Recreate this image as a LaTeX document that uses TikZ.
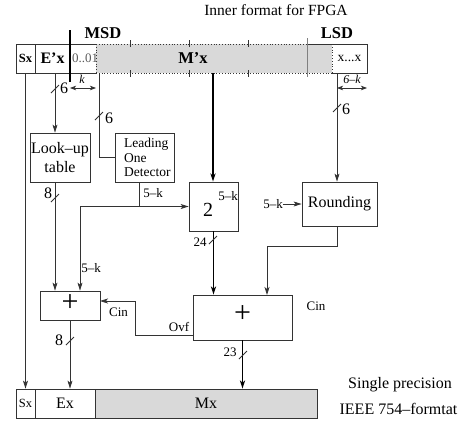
\documentclass[tikz,border=0pt]{standalone}
\usepackage{fontspec}
\setmainfont{Liberation Serif}
\usetikzlibrary{arrows.meta}
\begin{document}
\begin{tikzpicture}[x=1pt,y=-1pt,
  wire/.style={line width=0.8pt, draw=black!80},
  bus/.style={line width=1.6pt, draw=black},
  arr/.style={-{Stealth[length=8pt,width=5pt,inset=2pt]}},
  darr/.style={{Stealth[length=6pt,width=4.5pt,inset=1.5pt]}-{Stealth[length=6pt,width=4.5pt,inset=1.5pt]}},
  box/.style={draw=black!80, line width=0.8pt, inner sep=0pt, align=center, font=\fontsize{16}{19}\selectfont},
  cell/.style={inner sep=0pt},
  big/.style={font=\fontsize{16}{19}\selectfont, inner sep=0pt},
  lbl/.style={font=\fontsize{13}{15}\selectfont, inner sep=0pt},
  ilbl/.style={font=\fontsize{12}{14}\selectfont\itshape, inner sep=0pt},
]
\useasboundingbox (0,0) rectangle (473,423);

% ---------- top bar ----------
\fill[gray!30] (96,44) rectangle (332,73);
\draw[wire] (96,44) -- (16,44) -- (16,73) -- (96,73);
\draw[wire] (35,44) -- (35,73);
\draw[wire, dotted] (96,44) -- (307,44) (96,73) -- (332,73) (96,44) -- (96,73) (332,44) -- (332,73);
\draw[wire] (307,44) -- (367,44) -- (367,73) -- (332,73);
\draw[black!50, line width=0.8pt] (307,38) -- (307,77);
\draw[line width=1.4pt] (70,30) -- (70,82);
\foreach \t in {130,189,248} {\draw[wire] (\t,40) -- (\t,47) (\t,70) -- (\t,77);}

\node[cell, font=\fontsize{12.5}{14}\selectfont\bfseries] (sx) at (25.5,58.5) {Sx};
\node[cell, font=\fontsize{16}{19}\selectfont\bfseries] (ex) at (52.5,58.5) {E’x};
\node[cell, font=\fontsize{13}{15}\selectfont, text=black!65] (z01) at (85,58.5) {0..01};
\node[cell, font=\fontsize{16.5}{19}\selectfont\bfseries] (mx) at (193,58.5) {M’x};
\node[cell, font=\fontsize{13.5}{15}\selectfont] (xx) at (349.5,58.5) {x...x};
\node[cell, font=\fontsize{16.5}{19}\selectfont\bfseries] (msd) at (103,33) {MSD};
\node[cell, font=\fontsize{16.5}{19}\selectfont\bfseries] (lsd) at (337,33) {LSD};
\node[cell, font=\fontsize{15.5}{18}\selectfont] (title) at (276,10) {Inner format for FPGA};

\coordinate (sxo) at (25.5,73);
\coordinate (exo) at (55,73);
\coordinate (zo) at (99,73);
\coordinate (mxo) at (213,73);
\coordinate (lsdo) at (337,73);

% k and 6-k arrows
\coordinate (ka) at (70,88); \coordinate (kb) at (96,88);
\draw[wire, darr] (ka) -- (kb);
\node[ilbl] at (82,79) {k};
\coordinate (la) at (337,88); \coordinate (lb) at (367,88);
\draw[wire, darr] (la) -- (lb);
\node[ilbl] at (352,79) {6–k};

% ---------- blocks ----------
\node[box, minimum width=60, minimum height=49] (lut) at (60,157.5) {Look–up\\table};
\node[box, minimum width=59, minimum height=49] (lod) at (144.5,157.5) {};
\node[align=left, font=\fontsize{13.5}{14.5}\selectfont, inner sep=0pt, anchor=west] at (124,157.5) {Leading\\One\\Detector};
\node[box, minimum width=49, minimum height=49] (pow) at (213.5,206.5) {};
\node[inner sep=0pt, font=\fontsize{20}{22}\selectfont] at (208,210) {2};
\node[inner sep=0pt, font=\fontsize{13}{15}\selectfont] at (228,196) {5–k};
\node[box, minimum width=75, minimum height=44] (round) at (339.5,204) {Rounding};
\node[box, minimum width=99, minimum height=45] (badd) at (242.5,317.5) {};
\node[inner sep=0pt, font=\fontsize{30}{30}\selectfont] at (242.5,314) {+};
\node[box, minimum width=60, minimum height=29] (sadd) at (70,305.5) {};
\node[inner sep=0pt, font=\fontsize{30}{30}\selectfont] at (70,303) {+};

% ---------- bottom bar ----------
\node[box, minimum width=19, minimum height=29, font=\fontsize{12.5}{14}\selectfont] (bsx) at (25.5,403.5) {Sx};
\node[box, minimum width=60, minimum height=29] (bex) at (65,403.5) {Ex};
\node[box, fill=gray!30, minimum width=222, minimum height=29] (bmx) at (206,403.5) {Mx};
\node[big] at (400,385) {Single precision};
\node[big] at (398.5,409) {IEEE 754–formtat};

% ---------- connectors ----------
\draw[wire, arr] (sxo) -- (sxo |- bsx.north);
\draw[wire, arr] (exo) -- (exo |- lut.north);
\draw[wire] (zo) |- (lod.west);
\draw[bus, arr] (mxo) -- (mxo |- pow.north);
\draw[wire, arr] (lsdo) -- (lsdo |- round.north);

\draw[wire, arr] (exo |- lut.south) -- (exo |- sadd.north);
\coordinate (lodo) at (139,182);
\coordinate (c5k) at (80,206.5);
\draw[wire, arr] (lodo) |- (pow.west);
\draw[wire, arr] (lodo |- pow.west) -- (c5k) -- (c5k |- sadd.north);

\node[lbl] (r5k) at (273,204) {5–k};
\draw[wire, arr] (r5k.east) -- (round.west);

\coordinate (rin) at (267,295);
\draw[wire, arr] (lsdo |- round.south) -- (337,246) -| (rin);
\draw[bus, arr] (pow.south) -- (pow.south |- badd.north);
\draw[bus, arr] (badd.south) -- (badd.south |- bmx.north);

\coordinate (ovf) at (193,335);
\coordinate (cin) at (100,301);
\draw[wire, arr] (ovf) -| (135,301) -- (cin);
\draw[wire, arr] (sadd.south) -- (sadd.south |- bex.north);

% ---------- bus width marks & labels ----------
\draw[wire] (51,93) -- (59,85);   \node[big] at (64,88.5) {6};
\draw[wire] (95,120) -- (103,112); \node[big] at (109,118) {6};
\draw[wire] (333,112) -- (341,104); \node[big] at (346,109) {6};
\draw[wire] (51,202) -- (59,194); \node[big] at (48,193) {8};
\draw[wire] (209,244) -- (217,236); \node[lbl] at (200,242) {24};
\draw[wire] (239,359) -- (247,351); \node[lbl] at (230,352) {23};
\draw[wire] (66,345) -- (74,337); \node[big] at (59,340) {8};

\node[lbl] at (153,193) {5–k};
\node[lbl] at (91,268) {5–k};
\node[lbl] at (118.5,312) {Cin};
\node[lbl] at (179,327) {Ovf};
\node[lbl] at (316,306) {Cin};
\end{tikzpicture}
\end{document}
